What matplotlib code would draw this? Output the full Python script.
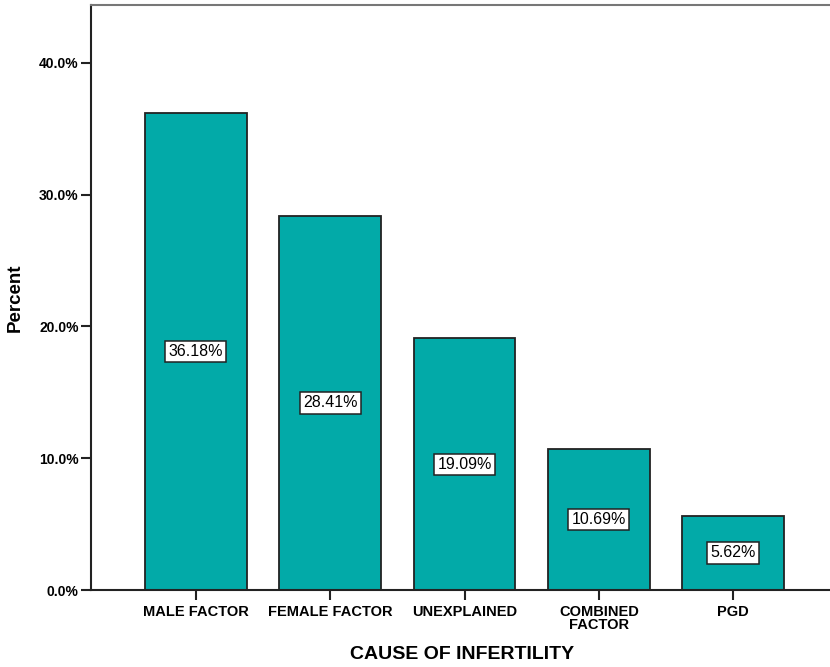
import numpy as np
import matplotlib.pyplot as plt

plt.rcParams['font.family'] = ['Liberation Sans', 'DejaVu Sans']

categories = ['MALE FACTOR', 'FEMALE FACTOR', 'UNEXPLAINED', 'COMBINED\nFACTOR', 'PGD']
percent = [36.18, 28.41, 19.09, 10.69, 5.62]
yticks = [0, 10, 20, 30, 40]

fig = plt.figure(figsize=(8.3, 6.67), dpi=100)
# axes runs slightly past the right edge, like the cropped original
ax = fig.add_axes([91/830, 1 - 590/667, (838 - 91)/830, (590 - 5)/667])

x = np.arange(len(categories))
ax.bar(x, percent, width=0.755, color='#02aaa8', edgecolor='#222222', linewidth=1.3)

for xi, v in zip(x, percent):
    ax.text(xi, v / 2, f'{v:.2f}%', ha='center', va='center', fontsize=11.5,
            bbox=dict(boxstyle='square,pad=0.2', facecolor='white', edgecolor='#222222', linewidth=1.1))

ax.set_xlim(-0.78, 4.78)
ax.set_ylim(0, 44.4)
ax.set_yticks(yticks)
ax.set_yticklabels([f'{t:.1f}%' for t in yticks], fontsize=10, fontweight='bold')
ax.set_xticks(x)
ax.set_xticklabels(categories, fontsize=10.5, fontweight='bold', linespacing=0.85)
ax.tick_params(axis='both', direction='out', length=7, width=1.5, color='#222222')
ax.tick_params(axis='y', pad=2)
ax.tick_params(axis='x', pad=4)

for s in ['left', 'bottom', 'top']:
    ax.spines[s].set_linewidth(1.5)
    ax.spines[s].set_color('#222222')
ax.spines['top'].set_color('#777777')
ax.spines['right'].set_visible(False)

ax.set_ylabel('Percent', fontsize=13.5, fontweight='bold')
ax.yaxis.set_label_coords(-(91 - 24)/747, (590 - 298)/585)
ax.set_xlabel('CAUSE OF INFERTILITY', fontsize=14, fontweight='bold')
ax.xaxis.set_label_coords((462 - 91)/747, -(646 - 590)/585)

fig.savefig('out.png', dpi=100)
